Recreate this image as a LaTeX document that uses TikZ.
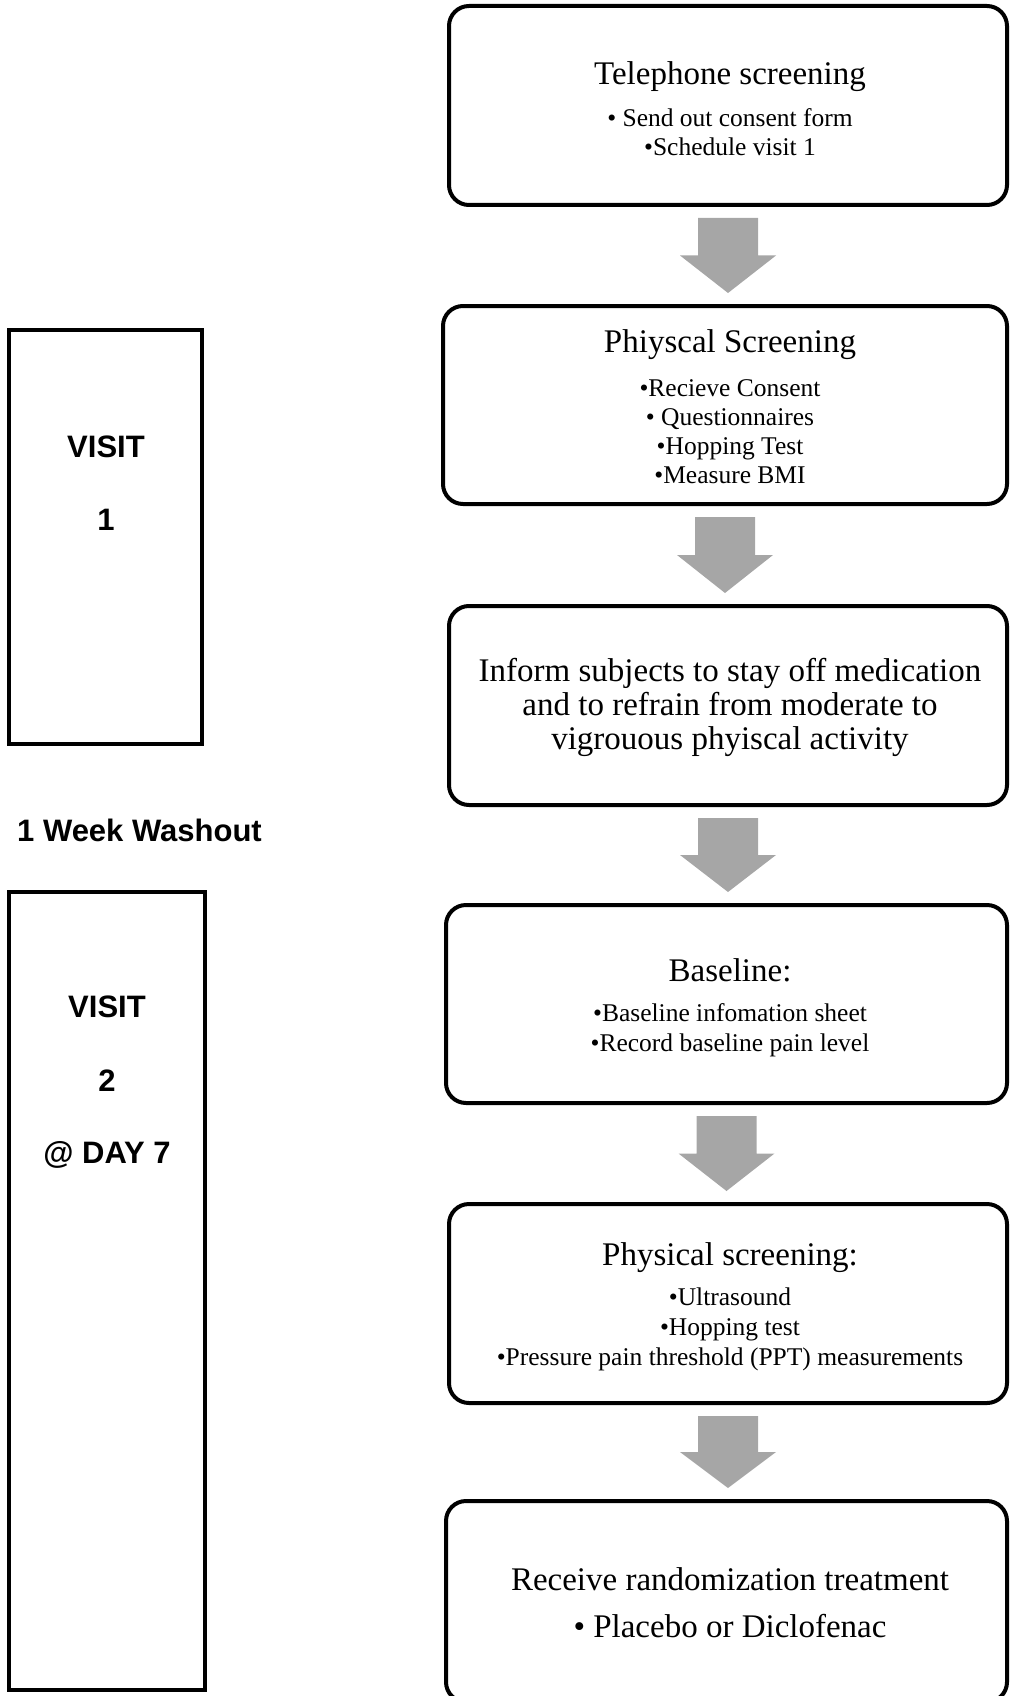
\documentclass[tikz,border=0pt]{standalone}
\usepackage{fontspec}
\setmainfont{Liberation Serif}
\newfontfamily\lsans{Liberation Sans}
\usetikzlibrary{calc}
\definecolor{arrowgrey}{HTML}{A6A6A6}
\begin{document}
\begin{tikzpicture}[x=1pt,y=-1pt,
  flow/.style={draw,line width=4pt,rounded corners=20pt,inner sep=0pt,outer sep=0pt},
  visitbox/.style={draw,line width=4pt,inner sep=0pt,outer sep=0pt},
  bigtxt/.style={font=\fontsize{33}{34}\selectfont,align=center,inner sep=0pt},
  smalltxt/.style={font=\fontsize{25.5}{29}\selectfont,align=center,inner sep=0pt},
  labtxt/.style={font=\lsans\bfseries\fontsize{31}{34}\selectfont,inner sep=0pt}]
\useasboundingbox (0,0) rectangle (1010,1696);

% flow boxes
\node[flow,minimum width=558pt,minimum height=199pt] (b1) at (728,105.5) {};
\node[flow,minimum width=564pt,minimum height=198pt] (b2) at (725,405) {};
\node[flow,minimum width=558pt,minimum height=199pt] (b3) at (728,705.5) {};
\node[flow,minimum width=561pt,minimum height=198pt] (b4) at (726.5,1004) {};
\node[flow,minimum width=558pt,minimum height=199pt] (b5) at (728,1303.5) {};
\node[flow,minimum width=561pt,minimum height=201pt] (b6) at (726.5,1601.5) {};

% visit boxes
\node[visitbox,minimum width=193pt,minimum height=414pt] (v1) at (105.5,537) {};
\node[visitbox,minimum width=196pt,minimum height=798pt] (v2) at (107,1291) {};

% block arrows
\foreach \a/\b in {b1/b2,b2/b3,b3/b4,b4/b5,b5/b6}{
  \fill[arrowgrey] let \p1=($(\a.south)+(0,13)$), \p2=($(\b.north)+(0,-13)$),
    \p3=($(\p1)!0.5!(\p2)$) in
    (\x1-30pt,\y1) -- (\x1+30pt,\y1) -- (\x1+30pt,\y3) -- (\x1+48pt,\y3)
    -- (\x1,\y2) -- (\x1-48pt,\y3) -- (\x1-30pt,\y3) -- cycle;
}

% texts in flow boxes
\node[bigtxt] (t1) at (730,77) {Telephone screening};
\node[smalltxt] (t1b) at (730,132) {• Send out consent form\\•Schedule visit 1};

\node[bigtxt] (t2) at (730,345) {Phiyscal Screening};
\node[smalltxt] (t2b) at (730,432) {•Recieve Consent\\• Questionnaires\\•Hopping Test\\•Measure BMI};

\node[bigtxt] (t3) at (730,707.5) {Inform subjects to stay off medication\\and to refrain from moderate to\\vigrouous phyiscal activity};

\node[bigtxt] (t4) at (730,970) {Baseline:};
\node[smalltxt,font=\fontsize{25.5}{30}\selectfont] (t4b) at (730,1030.5) {•Baseline infomation sheet\\•Record baseline pain level};

\node[bigtxt] (t5) at (730,1257.5) {Physical screening:};
\node[smalltxt,font=\fontsize{25.5}{29.7}\selectfont] (t5b) at (730,1329.5) {•Ultrasound\\•Hopping test\\•Pressure pain threshold (PPT) measurements};

\node[bigtxt] (t6) at (730,1579) {Receive randomization treatment};
\node[bigtxt] (t6b) at (730,1626) {• Placebo or Diclofenac};

% left labels
\node[labtxt] (l1) at (106,446.5) {VISIT};
\node[labtxt] (l2) at (106,520) {1};
\node[labtxt] (l3) at (139.5,830.5) {1 Week Washout};
\node[labtxt] (l4) at (107,1007) {VISIT};
\node[labtxt] (l5) at (107,1081) {2};
\node[labtxt] (l6) at (107,1155) {@ DAY 7};
\end{tikzpicture}
\end{document}
